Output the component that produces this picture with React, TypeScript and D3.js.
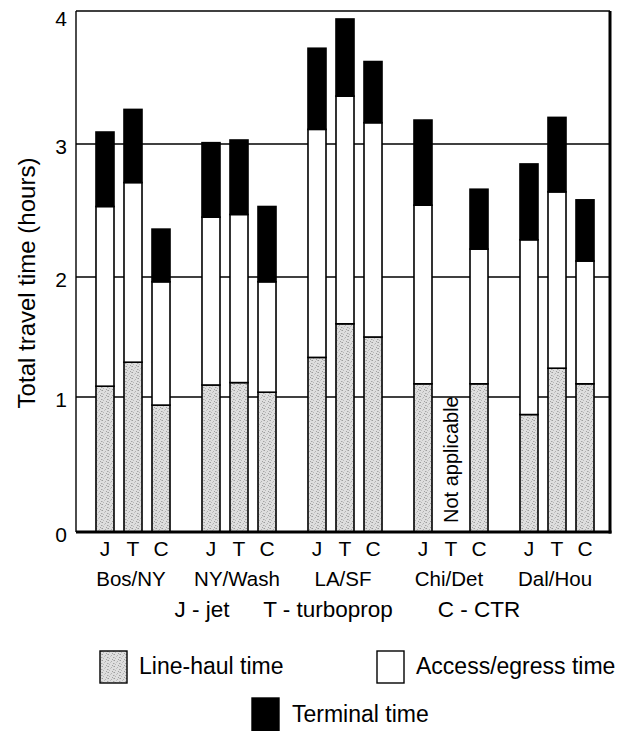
import React from "react";
import * as d3 from "d3";

const regions = ["Bos/NY", "NY/Wash", "LA/SF", "Chi/Det", "Dal/Hou"];
const modes = ["J", "T", "C"];
const modeLegend = ["J - jet", "T - turboprop", "C - CTR"];
// values per region, in order J, T, C (null = not applicable)
const lineHaul = [
  [1.09, 1.29, 0.94],
  [1.1, 1.12, 1.04],
  [1.33, 1.61, 1.5],
  [1.11, null, 1.11],
  [0.87, 1.24, 1.11],
];
const accessEgress = [
  [1.44, 1.42, 1.02],
  [1.35, 1.35, 0.92],
  [1.78, 1.75, 1.66],
  [1.43, null, 1.1],
  [1.41, 1.4, 1.01],
];
const terminal = [
  [0.56, 0.55, 0.4],
  [0.56, 0.56, 0.57],
  [0.61, 0.58, 0.46],
  [0.64, null, 0.45],
  [0.57, 0.56, 0.46],
];
const yTicks = [0, 1, 2, 3, 4];
const legendItems = ["Line-haul time", "Access/egress time", "Terminal time"];

const FONT = "'Liberation Sans', Arial, Helvetica, sans-serif";

export default function App() {
  const W = 626;
  const H = 731;
  const left = 76;
  const right = 610;
  // scanned axis is slightly non-uniform; piecewise linear scale through the gridlines
  const y = d3.scaleLinear().domain(yTicks).range([532, 397, 277, 144, 11]);
  const xGroup = d3.scaleBand<string>().domain(regions).range([80, 610]).padding(0);
  const xMode = d3
    .scaleBand<string>()
    .domain(modes)
    .range([0, xGroup.bandwidth()])
    .paddingInner(0.357)
    .paddingOuter(0.571);

  const bars: React.ReactNode[] = [];
  const labels: React.ReactNode[] = [];
  regions.forEach((r, gi) => {
    modes.forEach((m, mi) => {
      const x = (xGroup(r) as number) + (xMode(m) as number);
      const bw = xMode.bandwidth();
      const cx = x + bw / 2;
      labels.push(
        <text key={`l-${gi}-${mi}`} x={cx} y={556} textAnchor="middle" fontSize={21} fontFamily={FONT}>
          {m}
        </text>
      );
      const lh = lineHaul[gi][mi];
      const ae = accessEgress[gi][mi];
      const te = terminal[gi][mi];
      if (lh == null || ae == null || te == null) {
        bars.push(
          <text
            key={`na-${gi}-${mi}`}
            transform={`translate(${cx + 7},523) rotate(-90)`}
            fontSize={20}
            fontFamily={FONT}
          >
            Not applicable
          </text>
        );
        return;
      }
      const segs = [
        { y0: 0, y1: lh, fill: "url(#stipple)" },
        { y0: lh, y1: lh + ae, fill: "#ffffff" },
        { y0: lh + ae, y1: lh + ae + te, fill: "#000000" },
      ];
      segs.forEach((s, si) => {
        bars.push(
          <rect
            key={`b-${gi}-${mi}-${si}`}
            x={x}
            y={y(s.y1)}
            width={bw}
            height={y(s.y0) - y(s.y1)}
            fill={s.fill}
            stroke="#000"
            strokeWidth={1.6}
          />
        );
      });
    });
  });

  const dots: [number, number, string][] = [
    [0, 0, "#9c9c9c"], [3, 1, "#b0b0b0"], [5, 3, "#a4a4a4"], [1, 4, "#b8b8b8"],
    [4, 5, "#a0a0a0"], [2, 2, "#c0c0c0"], [5, 0, "#bdbdbd"], [0, 3, "#c4c4c4"],
  ];

  return (
    <svg width={W} height={H} style={{ position: "absolute", left: 0, top: 0, background: "#fff" }}>
      <defs>
        <pattern id="stipple" width={6} height={6} patternUnits="userSpaceOnUse">
          <rect width={6} height={6} fill="#dedede" />
          {dots.map(([dx, dy, c], i) => (
            <rect key={i} x={dx} y={dy} width={1} height={1} fill={c} />
          ))}
        </pattern>
      </defs>
      {/* gridlines */}
      {yTicks.slice(1, 4).map((t) => (
        <line key={`g${t}`} x1={left} x2={right} y1={y(t)} y2={y(t)} stroke="#000" strokeWidth={1.4} />
      ))}
      {/* frame */}
      <line x1={left} x2={right} y1={y(4)} y2={y(4)} stroke="#000" strokeWidth={1.4} />
      <line x1={left} x2={left} y1={y(4)} y2={y(0)} stroke="#000" strokeWidth={1.4} />
      <line x1={right} x2={right} y1={y(4)} y2={y(0) + 1.5} stroke="#000" strokeWidth={3} />
      {bars}
      <line x1={left} x2={right + 1.5} y1={y(0)} y2={y(0)} stroke="#000" strokeWidth={3} />
      {/* y tick labels */}
      {yTicks.map((t) => (
        <text key={`t${t}`} x={67} y={y(t) + (t === 4 ? 9 : 4)} textAnchor="end" fontSize={21} dominantBaseline="middle" fontFamily={FONT}>
          {t}
        </text>
      ))}
      <text
        transform={`translate(35,${283}) rotate(-90)`}
        textAnchor="middle"
        fontSize={24}
        fontFamily={FONT}
      >
        Total travel time (hours)
      </text>
      {labels}
      {regions.map((r) => (
        <text
          key={r}
          x={(xGroup(r) as number) + xGroup.bandwidth() / 2 - 2}
          y={586}
          textAnchor="middle"
          fontSize={20.5}
          fontFamily={FONT}
        >
          {r}
        </text>
      ))}
      {modeLegend.map((t, i) => (
        <text key={t} x={[202, 328, 479][i]} y={617} textAnchor="middle" fontSize={22.5} fontFamily={FONT}>
          {t}
        </text>
      ))}
      {/* legend */}
      <rect x={100} y={651} width={27} height={32} fill="url(#stipple)" stroke="#000" strokeWidth={1.4} />
      <text x={139} y={674} fontSize={23} fontFamily={FONT}>
        {legendItems[0]}
      </text>
      <rect x={377} y={651} width={27} height={32} fill="#fff" stroke="#000" strokeWidth={1.4} />
      <text x={416} y={674} fontSize={23} fontFamily={FONT}>
        {legendItems[1]}
      </text>
      <rect x={252} y={698} width={27} height={33} fill="#000" stroke="#000" strokeWidth={1.4} />
      <text x={292} y={722} fontSize={23} fontFamily={FONT}>
        {legendItems[2]}
      </text>
    </svg>
  );
}
